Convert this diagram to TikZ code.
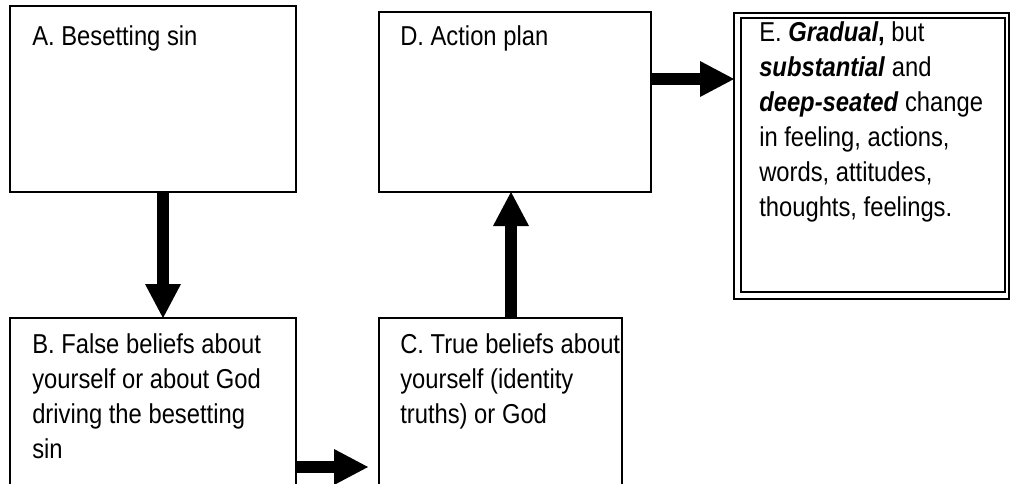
\documentclass[tikz,border=0pt]{standalone}
\usepackage{fontspec}
\setmainfont[FakeStretch=0.87]{Liberation Sans}
\usetikzlibrary{arrows.meta,calc}
\begin{document}
\begin{tikzpicture}[x=0.75pt,y=-0.75pt,
  box/.style={draw, line width=1.9pt, anchor=north west, inner sep=0pt, outer sep=0pt},
  thinbox/.style={draw, line width=0.9pt, anchor=north west, inner sep=0pt, outer sep=0pt},
  labeltext/.style={anchor=base west, inner sep=0pt, font=\fontsize{20.5}{26.25}\selectfont},
  blockarrow/.style={line width=9pt, -{Triangle[width=27pt,length=25.5pt,line width=0pt]}}]
\useasboundingbox (0,0) rectangle (1011,483);
\clip (0,0) rectangle (1011,483);
% boxes
\node[box, minimum width=286*0.75pt, minimum height=186*0.75pt] (A) at (10,6) {};
\node[box, minimum width=286*0.75pt, minimum height=200*0.75pt] (B) at (10,318) {};
\node[box, minimum width=243*0.75pt, minimum height=200*0.75pt] (C) at (379,318) {};
\node[box, minimum width=272*0.75pt, minimum height=180*0.75pt] (D) at (379,12) {};
\node[thinbox, minimum width=275*0.75pt, minimum height=286*0.75pt] (E) at (734,13) {};
\node[thinbox, minimum width=264*0.75pt, minimum height=274*0.75pt] (Ein) at (741,18) {};
% texts
\node[labeltext] (tA) at (32,45) {A. Besetting sin};
\node[labeltext] (tB) at (32,353) {\begin{tabular}[t]{@{}l@{}}B. False beliefs about\\yourself or about God\\driving the besetting\\sin\end{tabular}};
\node[labeltext] (tC) at (400,353) {\begin{tabular}[t]{@{}l@{}}C. True beliefs about\\yourself (identity\\truths) or God\end{tabular}};
\node[labeltext] (tD) at (400,45) {D. Action plan};
\node[labeltext] (tE) at (759,41) {\begin{tabular}[t]{@{}l@{}}E. \textbf{\textit{Gradual},} but\\\textbf{\textit{substantial}} and\\\textbf{\textit{deep-seated}} change\\in feeling, actions,\\words, attitudes,\\thoughts, feelings.\end{tabular}};
% connectors
\coordinate (ab) at (163,0);
\coordinate (bc) at (0,467);
\coordinate (bcend) at (368,467);
\coordinate (cd) at (511,0);
\coordinate (de) at (0,79);
\draw[blockarrow] (A.south -| ab) -- (B.north -| ab);
\draw[blockarrow] (B.east |- bc) -- (bcend);
\draw[blockarrow] (C.north -| cd) -- (D.south -| cd);
\draw[blockarrow] (D.east |- de) -- (E.west |- de);
\end{tikzpicture}
\end{document}
